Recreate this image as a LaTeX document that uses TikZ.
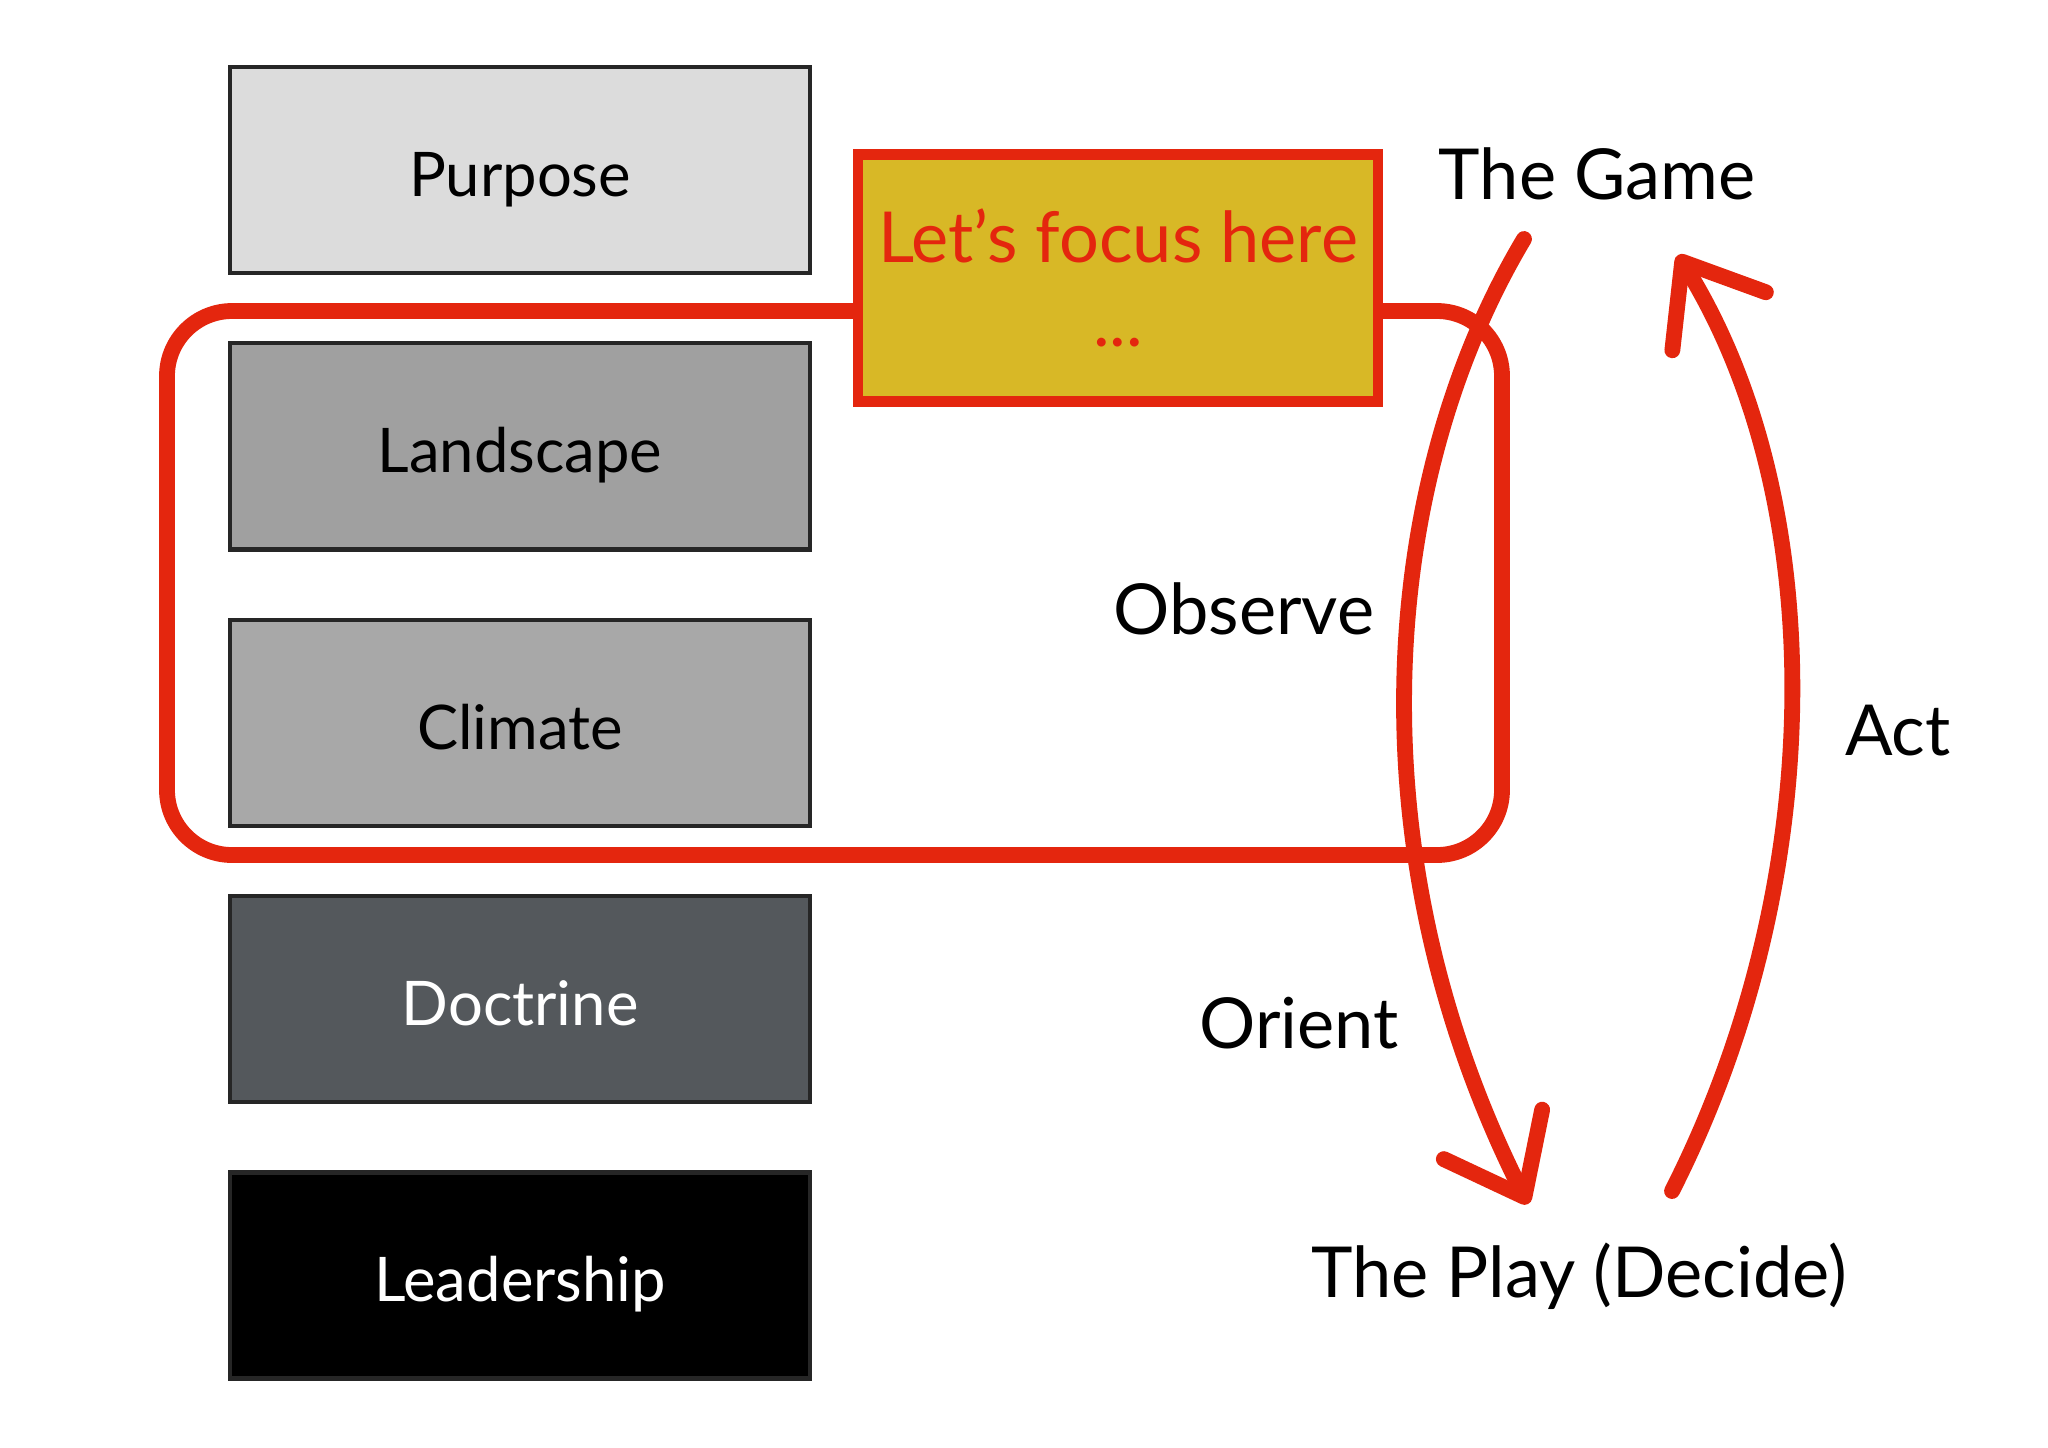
\documentclass[tikz,border=0pt]{standalone}
\usepackage{fontspec}
\setmainfont{Lato}
\usetikzlibrary{arrows.meta,positioning}
\definecolor{crayon}{RGB}{228,38,14}
\definecolor{mustard}{RGB}{216,184,38}
\definecolor{paleGrey}{RGB}{220,220,220}
\definecolor{midGrey}{RGB}{160,160,160}
\definecolor{softGrey}{RGB}{168,168,168}
\definecolor{slateGrey}{RGB}{84,88,92}
\tikzset{
    layer/.style={
        draw=black!85,
        line width=1.2pt,
        inner sep=0pt,
        minimum width=5.8cm,
        minimum height=2.06cm,
        text height=15pt,
        text depth=0pt,
        font=\fontsize{17.5}{21}\selectfont
    },
    phase/.style={
        font=\fontsize{20}{24}\selectfont
    },
    crayonline/.style={
        draw=crayon,
        line width=4.5pt,
        line cap=round,
        line join=round
    },
    sweep/.style={
        crayonline,
        -{Straight Barb[round,length=7mm,width=11mm]}
    },
    focusnote/.style={
        draw=crayon,
        line width=3pt,
        fill=mustard,
        text=crayon,
        align=center,
        minimum width=5.2cm,
        minimum height=2.47cm,
        font=\fontsize{20}{24}\selectfont
    }
}

\begin{document}
\begin{tikzpicture}[x=0.01cm, y=-0.01cm, node distance=6.6mm]
        \useasboundingbox[fill=white] (0,0) rectangle (2048,1447);
        \node[layer, fill=paleGrey] (purpose) at (520,170) {Purpose};
        \node[layer, below=of purpose, fill=midGrey] (landscape) {Landscape};
        \node[layer, below=of landscape, fill=softGrey] (climate) {Climate};
        \node[layer, below=of climate, fill=slateGrey, text=white] (doctrine) {Doctrine};
        \node[layer, below=of doctrine, fill=black, text=white] (leadership) {Leadership};
        \draw[crayonline, rounded corners=6.5mm] (167,311) rectangle (1502,855);
        \node[focusnote] (focus) at (1118,278) {Let's focus here\\...};
        \node[phase] (game) at (1597,174) {The Game};
        \node[phase] (observe) at (1244,609) {Observe};
        \node[phase] (orient) at (1299,1023) {Orient};
        \node[phase] (act) at (1898,731) {Act};
        \node[phase] (play) at (1579,1276) {The Play (Decide)};
        \coordinate (obsTop) at (1524,239);
        \coordinate (obsTip) at (1528,1204);
        \coordinate (actFoot) at (1672,1191);
        \coordinate (actTip) at (1678,255);
        \draw[sweep] (obsTop) .. controls (1380,480) and (1350,850) .. (obsTip);
        \draw[sweep] (actFoot) .. controls (1830,880) and (1830,500) .. (actTip);
    \end{tikzpicture}
\end{document}
